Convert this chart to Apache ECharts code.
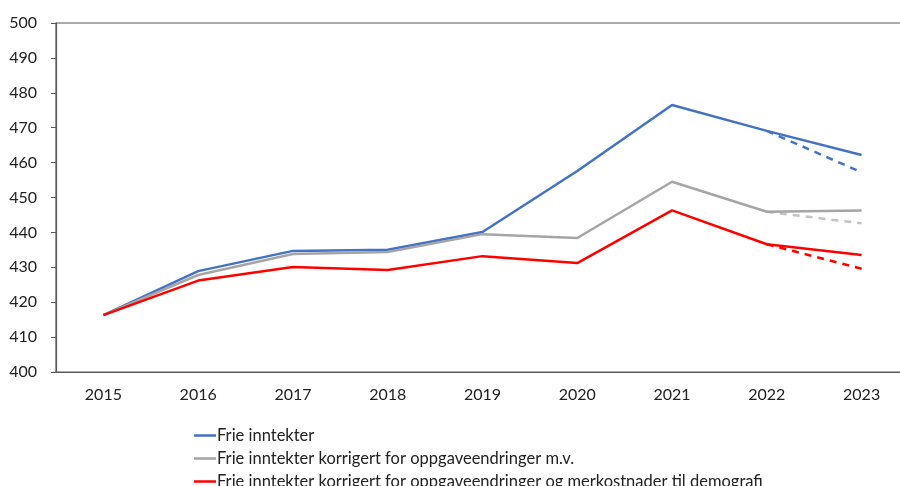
<!DOCTYPE html>
<html>
<head>
<meta charset="utf-8">
<script src="https://cdn.jsdelivr.net/npm/echarts@6/dist/echarts.min.js"></script>
<style>
  html, body { margin: 0; padding: 0; background: #fff; }
  #chart { width: 900px; height: 486px; }
</style>
</head>
<body>
<div id="chart"></div>
<script>
// years on the x axis
const years = ['2015', '2016', '2017', '2018', '2019', '2020', '2021', '2022', '2023']

const nameFrie = 'Frie inntekter'
const nameOppg = 'Frie inntekter korrigert for oppgaveendringer m.v.'
const nameDemo = 'Frie inntekter korrigert for oppgaveendringer og merkostnader til demografi'

const frie = [416.3, 428.9, 434.7, 435.0, 440.1, 457.6, 476.5, 469.1, 462.2]
const oppg = [416.3, 427.8, 433.8, 434.4, 439.5, 438.4, 454.5, 445.9, 446.3]
const demo = [416.3, 426.2, 430.1, 429.2, 433.2, 431.2, 446.3, 436.6, 433.5]

// dashed alternatives for the last year
const frieAlt = ['-', '-', '-', '-', '-', '-', '-', 469.1, 457.2]
const oppgAlt = ['-', '-', '-', '-', '-', '-', '-', 445.9, 442.6]
const demoAlt = ['-', '-', '-', '-', '-', '-', '-', 436.6, 429.6]

const colors = {
  frie: '#4472C4',
  oppg: '#A5A5A5',
  oppgDash: '#C3C3C3',
  demo: '#FF0000'
}

const chart = echarts.init(document.getElementById('chart'))

function line(name, data, color, dashed) {
  return {
    name: name,
    type: 'line',
    data: data,
    symbol: 'none',
    silent: true,
    lineStyle: {
      color: color,
      width: 2.5,
      type: dashed ? [7, 6] : 'solid'
    },
    itemStyle: { color: color },
    z: dashed ? 1 : 2
  }
}

// one legend per row so the long names stay in one column
function legendRow(name, top) {
  return {
    data: [name],
    left: 189,
    top: top,
    icon: 'rect',
    itemWidth: 22,
    itemHeight: 2.5,
    selectedMode: false,
    textStyle: { fontSize: 16.5, color: '#222', padding: [0, 0, 0, -4] }
  }
}

const option = {
  animation: false,
  textStyle: { fontFamily: 'Lato, "Open Sans", sans-serif' },
  grid: {
    left: 56,
    right: -9,
    top: 23,
    bottom: 114,
    outerBoundsMode: 'none',
    containLabel: false,
    show: true,
    borderColor: '#595959',
    borderWidth: 1.2
  },
  legend: [
    legendRow(nameFrie, 422),
    legendRow(nameOppg, 445),
    legendRow(nameDemo, 468)
  ],
  xAxis: {
    type: 'category',
    data: years,
    axisLine: { lineStyle: { color: '#595959', width: 1.2 } },
    axisTick: { show: false },
    axisLabel: { color: '#222', fontSize: 16, margin: 15 }
  },
  yAxis: {
    type: 'value',
    min: 400,
    max: 500,
    interval: 10,
    axisLine: { show: true, lineStyle: { color: '#595959', width: 1.2 } },
    axisTick: { show: true, length: 5, lineStyle: { color: '#595959' } },
    splitLine: { show: false },
    axisLabel: { color: '#222', fontSize: 16, margin: 19 }
  },
  series: [
    line(nameFrie + ' (alt)', frieAlt, colors.frie, true),
    line(nameOppg + ' (alt)', oppgAlt, colors.oppgDash, true),
    line(nameDemo + ' (alt)', demoAlt, colors.demo, true),
    line(nameFrie, frie, colors.frie, false),
    line(nameOppg, oppg, colors.oppg, false),
    line(nameDemo, demo, colors.demo, false)
  ]
}

chart.setOption(option)
</script>
</body>
</html>
